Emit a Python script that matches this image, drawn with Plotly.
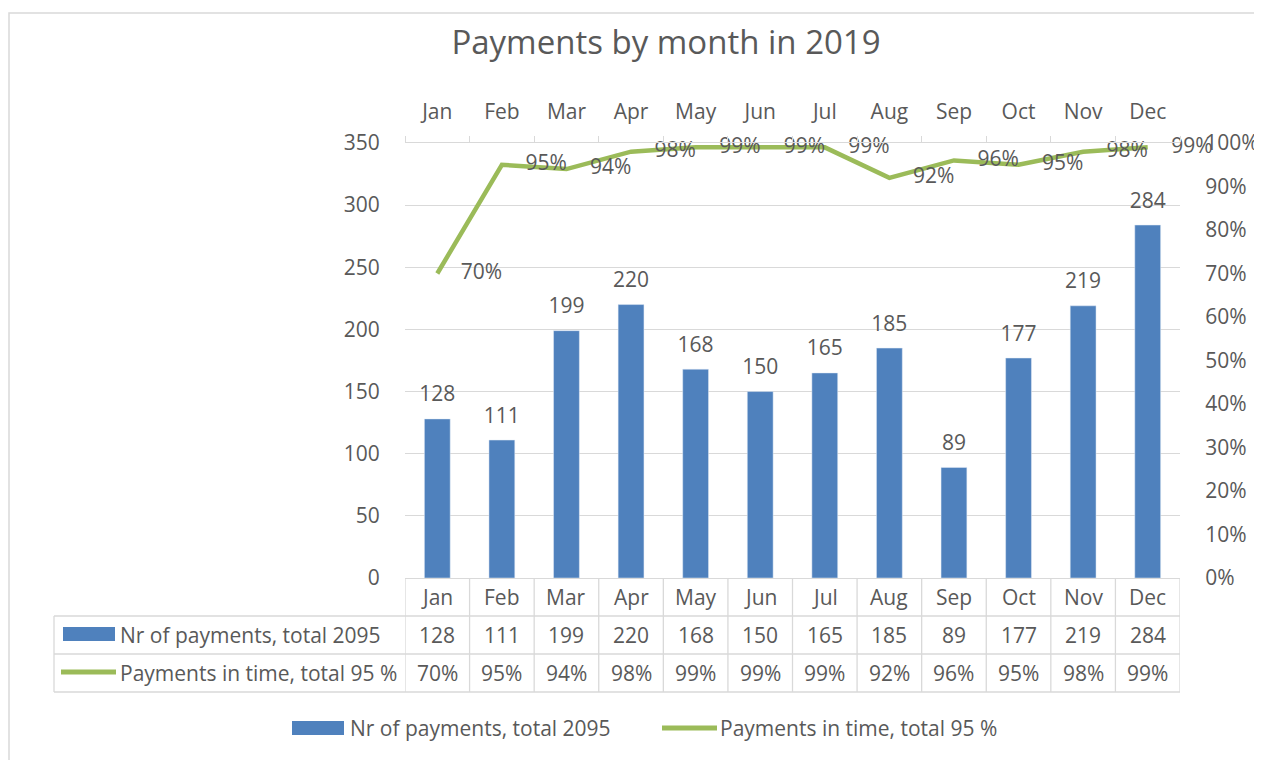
import plotly.graph_objects as go

months = ["Jan", "Feb", "Mar", "Apr", "May", "Jun", "Jul", "Aug", "Sep", "Oct", "Nov", "Dec"]
payments = [128, 111, 199, 220, 168, 150, 165, 185, 89, 177, 219, 284]
in_time_pct = [70, 95, 94, 98, 99, 99, 99, 92, 96, 95, 98, 99]
bar_name = "Nr of payments, total 2095"
line_name = "Payments in time, total 95 %"
title_text = "Payments by month in 2019"

BLUE = "#4F81BD"
GREEN = "#9BBB59"
TXT = "#595959"
GRID = "#D9D9D9"
FONT = "Open Sans"
FS = 21

OFF = 8  # page body margin
W, H = 1262 - OFF, 760 - OFF
L, R, T, B = 405, 1180, 143, 578  # plot area in reference page pixels


def px(x):
    return (x - L) / (R - L)


def py(y):
    return (B - y) / (B - T)


in_time = [v / 100 for v in in_time_pct]

fig = go.Figure()
fig.add_trace(go.Bar(x=months, y=payments, marker_color=BLUE, width=0.4,
                     name=bar_name, showlegend=False, hoverinfo="x+y"))
fig.add_trace(go.Scatter(x=months, y=payments, mode="markers+text",
                         text=[str(v) for v in payments], textposition="top center",
                         marker=dict(size=18, color="rgba(0,0,0,0)"),
                         textfont=dict(family=FONT, size=FS, color=TXT),
                         cliponaxis=False, showlegend=False, hoverinfo="skip"))
fig.add_trace(go.Scatter(x=months, y=in_time, mode="lines", xaxis="x2", yaxis="y2",
                         line=dict(color=GREEN, width=4.5), name=line_name,
                         cliponaxis=False, showlegend=False))
fig.add_trace(go.Scatter(x=months, y=in_time, mode="markers+text", xaxis="x2", yaxis="y2",
                         text=[f"{v}%" for v in in_time_pct], textposition="middle right",
                         marker=dict(size=36, color="rgba(0,0,0,0)"),
                         textfont=dict(family=FONT, size=FS, color=TXT),
                         cliponaxis=False, showlegend=False, hoverinfo="skip"))

shapes = []
annotations = []

# outer chart border
shapes.append(dict(type="rect", xref="paper", yref="paper", x0=px(9), x1=px(1300),
                   y0=py(800), y1=py(13), line=dict(color=GRID, width=1.5), layer="below"))

# data table lines
line_style = dict(color=GRID, width=1.3)
for i in range(len(months) + 1):
    shapes.append(dict(type="line", xref="x", yref="paper", x0=i - 0.5, x1=i - 0.5,
                       y0=py(578), y1=py(692), line=line_style))
shapes.append(dict(type="line", xref="paper", yref="paper", x0=px(54), x1=px(54),
                   y0=py(616), y1=py(692), line=line_style))
for yy in (616, 654, 692):
    shapes.append(dict(type="line", xref="paper", yref="paper", x0=px(54), x1=1,
                       y0=py(yy), y1=py(yy), line=line_style))

afont = dict(family=FONT, size=FS, color=TXT)
for i, m in enumerate(months):
    annotations.append(dict(x=m, y=py(597), xref="x", yref="paper", text=m,
                            showarrow=False, font=afont, xanchor="center", yanchor="middle"))
    annotations.append(dict(x=m, y=py(635), xref="x", yref="paper", text=str(payments[i]),
                            showarrow=False, font=afont, xanchor="center", yanchor="middle"))
    annotations.append(dict(x=m, y=py(673), xref="x", yref="paper", text=f"{in_time_pct[i]}%",
                            showarrow=False, font=afont, xanchor="center", yanchor="middle"))

# table row headers
shapes.append(dict(type="rect", xref="paper", yref="paper", x0=px(63), x1=px(115),
                   y0=py(641), y1=py(627), fillcolor=BLUE, line=dict(width=0)))
shapes.append(dict(type="line", xref="paper", yref="paper", x0=px(61), x1=px(116),
                   y0=py(672), y1=py(672), line=dict(color=GREEN, width=5)))
annotations.append(dict(x=px(118), y=py(635), xref="paper", yref="paper", text=bar_name,
                        showarrow=False, font=afont, xanchor="left", yanchor="middle"))
annotations.append(dict(x=px(118), y=py(673), xref="paper", yref="paper", text=line_name,
                        showarrow=False, font=afont, xanchor="left", yanchor="middle"))

# bottom legend
shapes.append(dict(type="rect", xref="paper", yref="paper", x0=px(292), x1=px(344),
                   y0=py(735), y1=py(721), fillcolor=BLUE, line=dict(width=0)))
shapes.append(dict(type="line", xref="paper", yref="paper", x0=px(662), x1=px(717),
                   y0=py(728), y1=py(728), line=dict(color=GREEN, width=5)))
annotations.append(dict(x=px(348), y=py(728), xref="paper", yref="paper", text=bar_name,
                        showarrow=False, font=afont, xanchor="left", yanchor="middle"))
annotations.append(dict(x=px(718), y=py(728), xref="paper", yref="paper", text=line_name,
                        showarrow=False, font=afont, xanchor="left", yanchor="middle"))

fig.update_layout(
    width=W, height=H,
    margin=dict(l=L - OFF, r=W - (R - OFF), t=T - OFF, b=H - (B - OFF), autoexpand=False),
    paper_bgcolor="white", plot_bgcolor="white",
    font=dict(family=FONT, size=FS, color=TXT),
    title=dict(text=title_text, x=(666 - OFF) / W, xref="container", xanchor="center",
               y=1 - (42 - OFF) / H, yref="container", yanchor="middle",
               font=dict(family=FONT, size=33, color=TXT)),
    showlegend=False,
    bargap=0.6,
    xaxis=dict(type="category", range=[-0.5, 11.5], showticklabels=False, ticks="",
               automargin=False,
               showline=True, linecolor=GRID, linewidth=1.3, showgrid=False, fixedrange=True),
    xaxis2=dict(type="category", range=[-0.5, 11.5], overlaying="x", side="top", anchor="y",
                automargin=False,
                tickson="boundaries", ticks="outside", ticklen=6, tickcolor=GRID, tickwidth=1.3,
                showline=True, linecolor=GRID, linewidth=1.3, showgrid=False,
                tickfont=dict(family=FONT, size=FS, color=TXT), ticklabelstandoff=14),
    yaxis=dict(range=[0, 350], dtick=50, showgrid=True, gridcolor=GRID, gridwidth=1.3,
               automargin=False,
               zeroline=False, ticks="outside", ticklen=20, tickcolor="rgba(0,0,0,0)",
               tickfont=dict(family=FONT, size=FS, color=TXT)),
    yaxis2=dict(range=[0, 1], dtick=0.1, tickformat=".0%", overlaying="y", side="right",
                automargin=False,
                showgrid=False, zeroline=False, ticks="outside", ticklen=20,
                tickcolor="rgba(0,0,0,0)", tickfont=dict(family=FONT, size=FS, color=TXT)),
    shapes=shapes,
    annotations=annotations,
)

fig.write_html("out.html")
